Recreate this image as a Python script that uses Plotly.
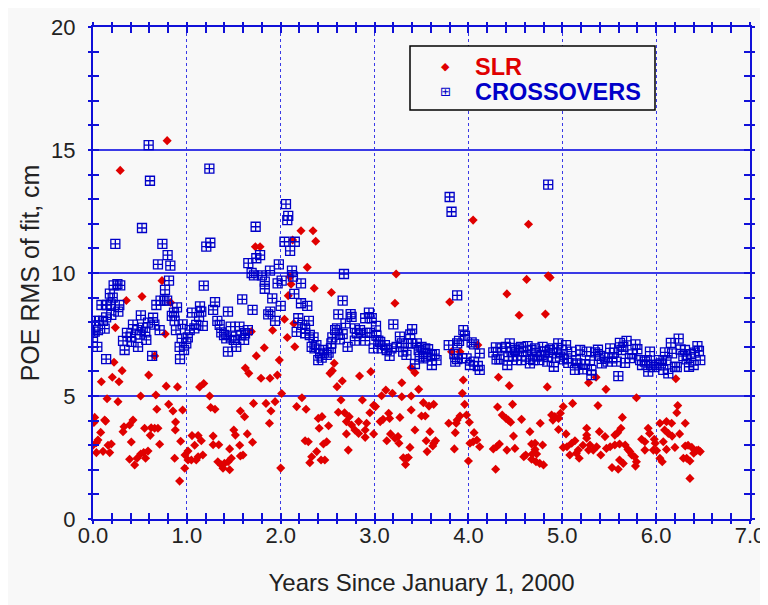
import plotly.graph_objects as go

# ---------------- data ----------------
slr_year = [
    0.79, 0.29, 1.73, 0.735, 0.522, 0.355, 0.827, 0.77, 0.238, 0.657,
    0.224, 0.31, 0.206, 0.089, 0.277, 0.593, 0.78, 0.90, 1.136, 1.18,
    1.623, 1.66, 1.74, 1.687, 0.508, 0.67, 0.15, 0.266, 1.243, 0.806,
    0.852, 0.955, 0.68, 1.254, 1.30, 1.71, 1.57, 1.615, 0.018, 0.124,
    0.01, 0.135, 0.426, 0.39, 0.33, 0.32, 0.55, 0.62, 0.657, 0.692,
    0.61, 0.88, 0.877, 0.082, 0.053, 0.036, 0.408, 0.71, 0.934, 1.055,
    1.12, 1.154, 1.083, 1.28, 1.28, 1.34, 1.50, 1.517, 1.644, 1.70,
    1.456, 1.563, 1.598, 1.57, 0.0, 0.107, 0.16, 0.195, 0.178, 0.036,
    0.39, 0.47, 0.508, 0.54, 0.586, 0.444, 0.56, 0.87, 1.012, 0.98,
    1.012, 0.977, 1.048, 1.10, 1.12, 1.17, 0.923, 1.33, 1.367, 1.40,
    1.44, 1.456, 1.474, 1.385, 2.216, 2.344, 2.373, 1.78, 2.127, 2.283,
    3.23, 2.10, 2.11, 2.08, 2.357, 2.54, 3.217, 2.04, 2.14, 1.914,
    2.07, 2.15, 1.825, 1.985, 1.964, 1.79, 1.886, 2.57, 2.55, 2.525,
    2.656, 2.60, 2.84, 2.96, 3.29, 3.39, 3.43, 3.47, 3.39, 3.29,
    3.19, 3.12, 3.075, 2.01, 1.88, 1.843, 1.94, 1.896, 2.226, 2.17,
    2.27, 2.642, 2.614, 2.68, 2.87, 2.95, 2.73, 2.83, 2.99, 3.01,
    3.15, 3.27, 3.39, 3.50, 2.40, 2.44, 2.51, 2.41, 2.70, 2.755,
    2.79, 2.83, 2.915, 2.90, 2.90, 3.06, 3.09, 3.16, 2.99, 3.17,
    3.216, 3.25, 3.13, 3.26, 3.43, 2.70, 2.26, 2.294, 2.455, 2.49,
    2.383, 3.377, 2.33, 2.31, 2.43, 2.47, 2.72, 3.306, 3.34, 3.36,
    3.33, 2.0, 4.05, 4.64, 4.62, 4.85, 4.87, 3.80, 4.41, 4.54,
    4.82, 4.10, 3.91, 3.82, 3.52, 3.945, 3.935, 4.32, 4.435, 4.84,
    3.58, 3.63, 3.96, 4.31, 4.47, 5.11, 5.01, 3.54, 3.91, 3.88,
    3.98, 3.79, 3.87, 4.01, 4.36, 4.40, 4.425, 4.45, 4.566, 4.765,
    4.886, 4.92, 4.96, 4.98, 4.90, 3.59, 3.86, 4.06, 4.48, 4.655,
    4.96, 5.04, 5.26, 3.55, 3.62, 3.65, 3.63, 3.56, 3.85, 4.016,
    4.05, 4.09, 4.12, 4.265, 4.30, 4.33, 4.41, 4.495, 4.673, 4.71,
    4.79, 4.71, 4.727, 4.68, 4.673, 4.72, 4.76, 4.80, 4.59, 4.61,
    5.01, 5.05, 5.10, 5.135, 5.17, 5.18, 5.22, 5.26, 5.28, 5.15,
    5.08, 4.0, 4.29, 5.36, 5.465, 5.79, 6.21, 5.38, 6.23, 6.22,
    5.28, 5.64, 5.625, 6.04, 6.11, 6.165, 6.31, 5.455, 5.26, 5.395,
    5.56, 5.59, 5.915, 5.93, 5.845, 5.88, 5.98, 5.99, 6.09, 6.13,
    6.17, 6.25, 6.076, 5.295, 5.33, 5.366, 5.41, 5.47, 5.51, 5.56,
    5.61, 5.67, 5.72, 5.70, 5.74, 5.77, 5.79, 5.78, 5.61, 5.65,
    5.53, 5.596, 5.88, 5.97, 6.005, 6.11, 6.20, 6.31, 6.34, 6.38,
    6.04, 6.065, 6.29, 6.325, 6.36, 6.40, 6.43, 6.47, 6.36, 6.45,
]
slr_rms = [
    15.38, 14.17, 11.07, 9.69, 9.04, 8.88, 8.8, 7.52, 7.78, 6.63,
    6.37, 6.03, 5.76, 5.58, 5.58, 5.85, 5.4, 5.37, 5.37, 5.51,
    6.14, 5.92, 6.63, 7.62, 5.0, 5.04, 4.89, 4.77, 5.0, 4.66,
    4.39, 4.43, 4.46, 4.53, 4.46, 4.7, 4.39, 4.16, 4.13, 4.02,
    3.92, 3.98, 4.02, 3.82, 3.75, 3.55, 3.69, 3.71, 3.69, 3.69,
    3.4, 3.94, 3.62, 3.52, 3.21, 3.1, 3.13, 3.04, 3.16, 3.39,
    3.39, 3.18, 3.0, 3.37, 3.02, 3.02, 3.62, 3.41, 3.46, 3.12,
    2.85, 3.0, 2.6, 2.56, 3.0, 2.75, 3.0, 3.05, 2.7, 2.7,
    2.43, 2.47, 2.64, 2.7, 2.76, 2.2, 2.47, 2.47, 2.76, 2.6,
    2.4, 2.06, 2.4, 2.4, 2.53, 2.6, 1.54, 2.33, 2.2, 2.26,
    2.33, 2.0, 2.47, 2.06, 11.72, 11.72, 11.29, 11.07, 11.34, 10.23,
    9.96, 9.85, 9.54, 9.08, 9.38, 9.21, 8.77, 8.12, 7.95, 7.67,
    7.38, 7.0, 6.96, 6.46, 5.85, 5.72, 5.72, 6.33, 6.03, 5.92,
    5.61, 5.38, 5.81, 5.99, 5.54, 6.15, 5.95, 5.27, 5.0, 4.97,
    5.11, 5.24, 5.01, 5.1, 3.89, 4.7, 4.77, 4.39, 4.93, 4.57,
    4.46, 4.84, 4.34, 4.32, 4.84, 4.32, 4.16, 3.96, 4.62, 4.57,
    4.3, 4.13, 4.43, 4.19, 4.09, 4.16, 3.79, 3.69, 3.96, 3.82,
    3.62, 3.48, 3.89, 3.62, 3.32, 3.96, 4.05, 4.09, 3.46, 3.46,
    3.28, 3.35, 3.18, 3.08, 3.62, 3.46, 3.18, 3.14, 3.05, 3.14,
    2.74, 2.91, 2.53, 2.29, 2.4, 2.4, 2.8, 2.49, 2.47, 2.5,
    2.22, 2.07, 12.15, 11.98, 9.74, 9.89, 9.82, 8.82, 9.15, 8.28,
    8.33, 7.07, 6.8, 6.8, 4.73, 5.65, 5.11, 5.76, 5.42, 5.37,
    4.59, 4.66, 4.66, 4.55, 4.66, 4.70, 4.57, 4.19, 4.19, 4.02,
    4.23, 3.89, 3.89, 3.93, 4.23, 4.09, 4.02, 3.93, 4.05, 3.89,
    4.23, 4.16, 4.09, 4.30, 4.02, 3.55, 3.51, 3.51, 3.37, 3.55,
    3.64, 3.46, 3.69, 3.18, 2.97, 3.18, 3.08, 2.74, 2.85, 3.08,
    3.14, 3.21, 2.94, 2.85, 2.94, 3.05, 2.8, 2.87, 3.05, 3.08,
    3.01, 2.83, 2.64, 2.64, 2.43, 2.33, 2.26, 2.2, 2.53, 2.6,
    2.91, 2.94, 3.08, 3.18, 2.8, 2.47, 3.0, 3.28, 2.8, 2.67,
    2.6, 2.36, 2.02, 5.76, 5.27, 4.93, 5.70, 4.61, 4.61, 4.32,
    5.54, 4.13, 3.69, 3.89, 3.96, 3.89, 3.89, 3.35, 3.41, 3.55,
    3.41, 3.51, 3.69, 3.48, 3.24, 3.14, 3.24, 3.08, 3.62, 3.48,
    3.37, 3.46, 3.14, 3.01, 2.8, 2.94, 2.6, 2.87, 2.94, 3.01,
    3.05, 3.01, 2.74, 2.83, 2.6, 2.53, 2.33, 2.15, 2.40, 2.26,
    2.09, 2.02, 2.8, 2.8, 2.78, 2.83, 2.91, 2.97, 3.0, 2.91,
    2.47, 2.33, 2.47, 2.47, 2.36, 2.67, 2.78, 2.74, 1.65, 2.8,
]

xo_year = [
    0.593, 0.607, 1.24, 0.522, 0.238, 0.739, 0.795, 0.692, 0.824, 1.207,
    1.25, 1.655, 1.69, 1.715, 1.733, 1.74, 0.81, 0.767, 0.29, 0.22,
    0.26, 0.18, 0.21, 0.09, 0.15, 0.19, 0.28, 0.27, 0.195, 0.14,
    0.025, 0.064, 0.107, 0.124, 0.053, 0.018, 0.0, 0.046, 0.14, 0.337,
    0.32, 0.362, 0.426, 0.40, 0.41, 0.48, 0.47, 0.50, 0.51, 0.53,
    0.557, 0.568, 0.586, 0.64, 0.654, 0.63, 0.71, 0.675, 0.72, 0.76,
    0.79, 0.84, 0.863, 0.895, 0.87, 0.884, 0.955, 1.03, 0.945, 1.01,
    0.923, 0.97, 0.994, 0.927, 1.055, 1.08, 1.10, 1.14, 1.154, 1.13,
    1.17, 1.18, 1.28, 1.30, 1.325, 1.35, 1.367, 1.396, 1.42, 1.467,
    1.474, 1.50, 1.526, 1.56, 1.58, 1.61, 1.62, 1.65, 1.59, 1.438,
    1.438, 1.70, 2.056, 2.08, 2.07, 2.04, 2.15, 2.10, 1.78, 1.98,
    1.886, 1.80, 2.12, 2.13, 1.83, 1.83, 1.967, 2.01, 2.216, 2.674,
    2.145, 1.91, 2.66, 2.0, 2.216, 2.283, 1.89, 1.867, 1.94, 2.187,
    2.30, 2.23, 2.26, 2.17, 2.26, 2.31, 2.35, 2.33, 2.38, 2.36,
    2.42, 2.455, 2.40, 2.436, 2.49, 2.51, 2.535, 2.54, 2.55, 2.60,
    2.58, 2.614, 2.66, 2.63, 2.713, 2.69, 2.745, 2.755, 2.79, 2.81,
    2.845, 2.79, 2.90, 2.94, 2.97, 2.95, 2.90, 2.92, 3.015, 2.99,
    3.02, 3.04, 3.076, 3.06, 3.11, 3.13, 3.16, 3.18, 3.20, 3.235,
    3.27, 3.29, 3.305, 3.34, 3.38, 3.40, 3.36, 3.39, 3.45, 3.47,
    3.48, 3.43, 3.50, 3.52, 3.80, 3.82, 4.85, 3.88, 3.946, 3.963,
    3.90, 3.88, 3.79, 4.034, 4.06, 4.12, 4.12, 4.10, 4.06, 4.016,
    3.98, 3.935, 3.88, 3.85, 3.86, 3.54, 3.57, 3.61, 3.64, 3.66,
    3.61, 3.55, 4.265, 4.293, 4.33, 4.354, 4.40, 4.414, 4.44, 4.46,
    4.478, 4.513, 4.538, 4.56, 4.585, 4.613, 4.63, 4.655, 4.673, 4.71,
    4.727, 4.755, 4.78, 4.79, 4.815, 4.84, 4.868, 4.897, 4.91, 4.94,
    4.957, 4.975, 4.993, 5.017, 5.04, 5.064, 5.10, 5.135, 5.16, 5.19,
    5.22, 5.24, 4.3, 4.425, 4.495, 4.567, 4.69, 4.85, 5.05, 5.145,
    5.26, 5.295, 5.31, 5.35, 5.38, 5.40, 5.42, 5.455, 5.483, 5.51,
    5.533, 5.55, 5.58, 5.597, 5.614, 5.63, 5.65, 5.668, 5.685, 5.72,
    5.746, 5.78, 5.80, 5.83, 5.85, 5.88, 5.90, 5.916, 5.934, 5.95,
    5.98, 6.005, 6.03, 6.05, 6.076, 6.094, 6.11, 6.13, 6.157, 6.17,
    6.20, 6.22, 6.24, 6.26, 6.29, 6.307, 6.325, 6.35, 6.37, 6.40,
    6.41, 6.44, 6.456, 6.47, 5.31,
]
xo_rms = [
    15.2, 13.75, 14.24, 11.83, 11.18, 11.18, 10.73, 10.35, 10.3, 11.07,
    11.23, 10.4, 10.0, 9.9, 11.88, 10.6, 9.69, 9.31, 9.5, 9.5,
    9.55, 9.16, 9.0, 8.7, 8.7, 8.72, 8.7, 8.43, 8.3, 8.2,
    8.05, 8.05, 8.05, 7.74, 7.68, 7.62, 7.38, 7.0, 6.5, 6.87,
    7.24, 7.57, 7.9, 7.41, 7.2, 7.0, 7.68, 7.5, 8.28, 7.78,
    7.59, 7.28, 7.98, 8.18, 7.9, 6.63, 7.68, 8.7, 8.88, 8.88,
    8.88, 8.26, 8.39, 8.6, 8.06, 7.68, 7.91, 7.68, 7.34, 7.38,
    7.0, 6.87, 7.14, 6.5, 8.39, 7.75, 7.89, 8.64, 8.43, 8.22,
    7.85, 9.49, 8.5, 8.82, 8.05, 7.89, 7.59, 7.48, 7.34, 7.82,
    7.41, 7.28, 7.0, 7.82, 7.48, 7.28, 7.55, 7.68, 8.93, 8.43,
    6.8, 8.5, 12.8, 12.32, 12.15, 11.27, 11.27, 10.9, 10.73, 10.35,
    10.1, 9.9, 10.1, 9.85, 9.65, 9.36, 9.58, 9.69, 9.58, 9.96,
    9.15, 8.97, 8.88, 8.66, 8.77, 8.66, 8.43, 8.32, 8.05, 8.16,
    8.05, 7.89, 7.75, 7.61, 7.55, 7.48, 7.38, 7.0, 7.07, 6.94,
    6.73, 6.87, 6.46, 6.56, 6.67, 6.76, 6.94, 7.14, 7.38, 7.75,
    7.68, 8.32, 7.52, 7.3, 7.0, 7.95, 8.33, 8.22, 7.75, 7.55,
    7.68, 7.25, 8.16, 8.39, 8.16, 7.57, 7.25, 7.57, 7.85, 6.94,
    7.45, 7.25, 6.94, 7.2, 7.07, 6.87, 6.63, 6.94, 7.91, 7.0,
    7.41, 7.14, 6.8, 6.67, 7.5, 7.72, 7.14, 7.14, 7.14, 6.87,
    6.6, 6.3, 7.0, 6.53, 13.09, 12.49, 13.59, 9.09, 7.68, 7.45,
    7.24, 7.14, 7.07, 7.18, 7.1, 6.73, 6.06, 6.22, 6.4, 6.26,
    6.53, 6.54, 6.5, 6.7, 6.4, 6.94, 6.9, 6.67, 6.7, 6.46,
    6.26, 6.6, 6.77, 6.98, 6.49, 6.94, 7.0, 6.26, 7.14, 6.8,
    6.6, 6.46, 6.94, 7.0, 6.8, 6.6, 7.03, 6.33, 6.87, 6.94,
    6.6, 6.46, 6.67, 7.0, 6.8, 6.4, 6.87, 6.94, 6.19, 6.73,
    7.14, 6.6, 6.87, 6.49, 7.07, 6.35, 6.8, 6.06, 6.33, 6.87,
    6.08, 6.29, 6.49, 6.6, 6.87, 6.46, 6.46, 6.6, 6.53, 6.46,
    6.80, 6.46, 6.06, 6.77, 6.88, 6.63, 6.33, 6.56, 6.40, 6.94,
    6.53, 6.76, 6.40, 5.81, 7.16, 6.87, 7.0, 6.35, 7.24, 6.54,
    6.69, 7.1, 6.9, 6.46, 6.26, 6.40, 6.46, 5.99, 6.8, 6.26,
    6.17, 6.26, 6.46, 6.33, 6.06, 6.77, 6.46, 5.92, 7.16, 6.73,
    6.19, 6.17, 7.33, 6.89, 6.62, 6.87, 6.49, 6.19, 6.7, 6.26,
    6.76, 7.03, 6.83, 6.46, 5.85,
]

series_names = ["SLR", "CROSSOVERS"]
x_tick_vals = [0, 1, 2, 3, 4, 5, 6, 7]
x_tick_text = ["0.0", "1.0", "2.0", "3.0", "4.0", "5.0", "6.0", "7.0"]
y_tick_vals = [0, 5, 10, 15, 20]
y_tick_text = ["0", "5", "10", "15", "20"]

# ---------------- styling ----------------
AXIS_BLUE = "#1010d8"
GRID_BLUE = "#3a3ae6"
RED = "#e00000"
BLUE = "#0000c8"
BG = "#f8f8f8"
TEXT = "#222222"
FONT = "Liberation Sans, Arial, sans-serif"

fig = go.Figure()
fig.add_trace(go.Scatter(
    x=slr_year, y=slr_rms, mode="markers", name=series_names[0],
    marker=dict(symbol="diamond", size=7, color=RED, line=dict(width=0)),
    hoverinfo="x+y",
))
fig.add_trace(go.Scatter(
    x=xo_year, y=xo_rms, mode="markers", name=series_names[1],
    marker=dict(symbol="square-cross-open", size=9, color=BLUE,
                line=dict(width=1.3, color=BLUE)),
    hoverinfo="x+y",
))
# carrier trace for the overlay axes (outer half of the crossing ticks)
fig.add_trace(go.Scatter(x=[None], y=[None], xaxis="x2", yaxis="y2",
                         showlegend=False, hoverinfo="skip"))

tickfont = dict(family=FONT, size=22, color=TEXT)

# ---------------- legend box (drawn as shape + texts, paper coordinates) ----
LEG_X0, LEG_X1, LEG_Y0, LEG_Y1 = 0.4825, 0.8554, 0.8313, 0.9614
LEG_MARK_X, LEG_TEXT_X = 0.5358, 0.5784
LEG_ROWS = [0.9197, 0.8689]
leg_symbols = ["\u25C6", "\u229E"]
leg_sym_sizes = [11, 13]
leg_colors = [RED, BLUE]

shapes = [dict(type="rect", xref="paper", yref="paper",
               x0=LEG_X0, x1=LEG_X1, y0=LEG_Y0, y1=LEG_Y1,
               line=dict(color="#000000", width=1.5), fillcolor=BG,
               layer="above")]
annotations = []
for name, sym, ssz, col, yy in zip(series_names, leg_symbols, leg_sym_sizes,
                                   leg_colors, LEG_ROWS):
    annotations.append(dict(
        xref="paper", yref="paper", x=LEG_MARK_X, y=yy, text=sym,
        showarrow=False, xanchor="center", yanchor="middle",
        font=dict(family="DejaVu Sans", size=ssz, color=col)))
    annotations.append(dict(
        xref="paper", yref="paper", x=LEG_TEXT_X, y=yy, text=f"<b>{name}</b>",
        showarrow=False, xanchor="left", yanchor="middle",
        font=dict(family=FONT, size=23.5, color=col)))

# the page body has an 8px margin, so margins are reduced by 8 on the
# top/left and enlarged on the right/bottom to keep the plot in place
fig.update_layout(
    width=768, height=605,
    paper_bgcolor=BG, plot_bgcolor=BG,
    margin=dict(l=85, r=26, t=19, b=94),
    font=dict(family=FONT, color=TEXT),
    showlegend=False,
    shapes=shapes,
    annotations=annotations,
    xaxis=dict(
        range=[0, 7], tickvals=x_tick_vals, ticktext=x_tick_text,
        tickfont=tickfont, ticks="inside", ticklen=6, tickwidth=1.5,
        tickcolor=AXIS_BLUE, ticklabelstandoff=-4,
        minor=dict(dtick=0.2, tick0=0, ticks="inside", ticklen=6,
                   tickwidth=1.5, tickcolor=AXIS_BLUE, showgrid=False),
        showline=True, linecolor=AXIS_BLUE, linewidth=2, mirror="ticks",
        showgrid=True, gridcolor=GRID_BLUE, gridwidth=1, griddash="dot",
        zeroline=False, automargin=False,
        title=dict(text="Years Since January 1, 2000",
                   font=dict(family=FONT, size=24, color=TEXT), standoff=27),
    ),
    yaxis=dict(
        range=[0, 20], tickvals=y_tick_vals, ticktext=y_tick_text,
        tickfont=tickfont, ticks="inside", ticklen=6, tickwidth=1.5,
        tickcolor=AXIS_BLUE, ticklabelstandoff=11,
        minor=dict(dtick=1, tick0=0, ticks="inside", ticklen=6,
                   tickwidth=1.5, tickcolor=AXIS_BLUE, showgrid=False),
        showline=True, linecolor=AXIS_BLUE, linewidth=2, mirror="ticks",
        showgrid=True, gridcolor=GRID_BLUE, gridwidth=2,
        zeroline=False, automargin=False,
        title=dict(text="POE RMS of fit, cm",
                   font=dict(family=FONT, size=25, color=TEXT), standoff=4),
    ),
    xaxis2=dict(
        range=[0, 7], overlaying="x", anchor="y2", tickvals=x_tick_vals,
        showticklabels=False, ticks="outside", ticklen=4, tickwidth=1.5,
        tickcolor=AXIS_BLUE,
        minor=dict(dtick=0.2, tick0=0, ticks="outside", ticklen=4,
                   tickwidth=1.5, tickcolor=AXIS_BLUE, showgrid=False),
        showline=False, mirror="ticks", showgrid=False, zeroline=False,
        automargin=False,
    ),
    yaxis2=dict(
        range=[0, 20], overlaying="y", anchor="x2", tickvals=y_tick_vals,
        showticklabels=False, ticks="outside", ticklen=4, tickwidth=1.5,
        tickcolor=AXIS_BLUE,
        minor=dict(dtick=1, tick0=0, ticks="outside", ticklen=4,
                   tickwidth=1.5, tickcolor=AXIS_BLUE, showgrid=False),
        showline=False, mirror="ticks", showgrid=False, zeroline=False,
        automargin=False,
    ),
)

fig.write_html("out.html")
